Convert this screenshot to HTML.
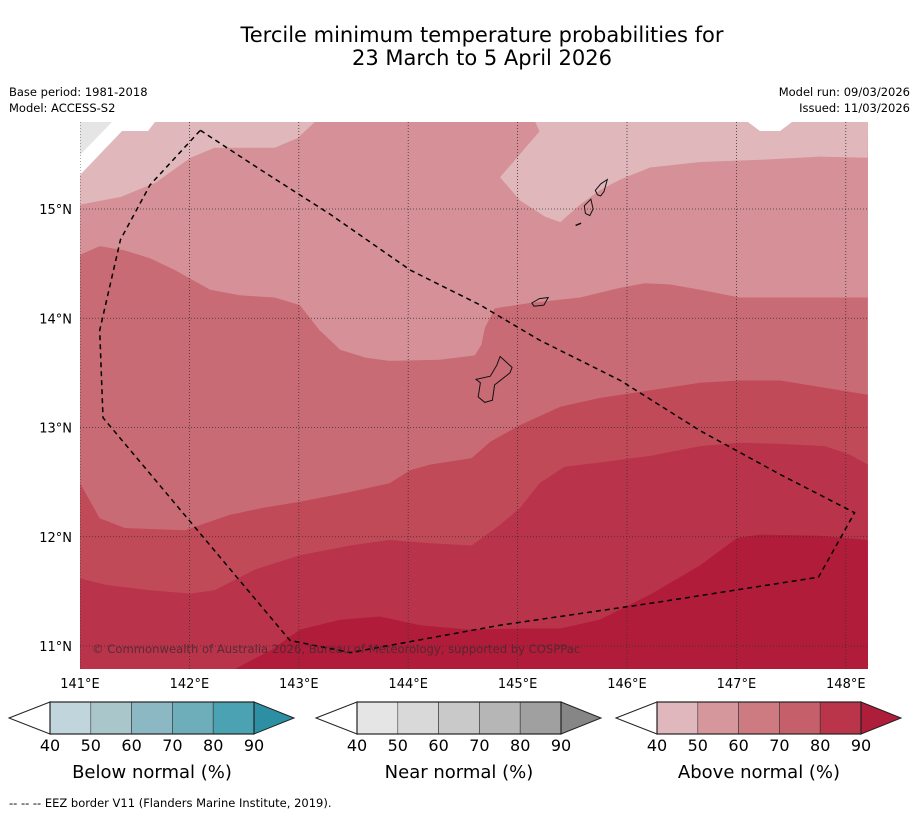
<!DOCTYPE html>
<html><head><meta charset="utf-8"><style>
body{margin:0;background:#fff;width:919px;height:816px;overflow:hidden;font-family:"DejaVu Sans","Liberation Sans",sans-serif}
svg{display:block}
</style></head><body>
<svg id="chart" width="919" height="816" xmlns="http://www.w3.org/2000/svg" font-family="DejaVu Sans, Liberation Sans, sans-serif">
<text x="482" y="42" font-size="21" text-anchor="middle">Tercile minimum temperature probabilities for</text>
<text x="482" y="65" font-size="21" text-anchor="middle">23 March to 5 April 2026</text>
<text x="9" y="96" font-size="11.5">Base period: 1981-2018</text>
<text x="9" y="112" font-size="11.5">Model: ACCESS-S2</text>
<text x="910" y="96" font-size="11.5" text-anchor="end">Model run: 09/03/2026</text>
<text x="910" y="112" font-size="11.5" text-anchor="end">Issued: 11/03/2026</text>
<defs><clipPath id="mapclip"><rect x="80" y="122" width="788" height="547"/></clipPath></defs>
<g id="map" clip-path="url(#mapclip)"></g>
<g id="axes"></g>
<text x="92" y="653" font-size="11.6" fill="#3a2a2c" fill-opacity="0.75">© Commonwealth of Australia 2026, Bureau of Meteorology, supported by COSPPac</text>
<g id="bars"></g>
<text x="9" y="807" font-size="11.5">--  --  -- EEZ border V11 (Flanders Marine Institute, 2019).</text>
</svg>
<script>
const lonTicks=[141,142,143,144,145,146,147,148];
const latTicks=[11,12,13,14,15];
const barLevels=["40","50","60","70","80","90"];
const bandColors=["#e0b8bb","#d59197","#c96b74","#c04a57","#b9334b","#b01c3a"];
const lightLeft=[[141,15.04],[141.37,15.11],[141.69,15.24],[142.01,15.47],[142.23,15.56],[142.78,15.56],[142.99,15.65],[143.15,15.80]];
const lightRight=[[145.16,15.80],[145.20,15.71],[144.84,15.29],[145.02,15.08],[145.25,14.93],[145.39,14.88],[145.57,15.04],[145.75,15.17],[145.94,15.27],[146.21,15.38],[146.67,15.43],[147.22,15.45],[147.76,15.48],[148.2,15.47]];
const b50=[[141,14.58],[141.18,14.66],[141.41,14.62],[141.64,14.55],[141.87,14.44],[142.19,14.26],[142.46,14.21],[142.78,14.19],[143.01,14.12],[143.19,13.89],[143.38,13.71],[143.61,13.64],[143.83,13.61],[144.29,13.62],[144.61,13.66],[144.67,13.76],[144.70,13.91],[144.79,14.09],[145.11,14.14],[145.57,14.19],[145.94,14.28],[146.16,14.32],[146.39,14.31],[146.67,14.26],[147.03,14.19],[147.58,14.19],[148.2,14.19]];
const b60=[[141,12.49],[141.18,12.17],[141.41,12.08],[141.96,12.06],[142.37,12.20],[142.65,12.26],[143.01,12.32],[143.47,12.41],[143.83,12.49],[144.02,12.61],[144.20,12.66],[144.58,12.72],[144.75,12.87],[145.02,13.02],[145.39,13.19],[145.75,13.27],[146.21,13.34],[146.67,13.41],[147.03,13.43],[147.40,13.43],[148.2,13.30]];
const b70=[[141,11.62],[141.23,11.56],[141.64,11.51],[142.01,11.48],[142.23,11.51],[142.60,11.70],[143.01,11.83],[143.47,11.92],[143.83,11.97],[144.20,11.94],[144.58,11.92],[144.84,12.11],[145.02,12.26],[145.20,12.49],[145.43,12.64],[145.75,12.68],[146.21,12.74],[146.67,12.83],[147.03,12.86],[147.40,12.85],[147.81,12.83],[148.04,12.75],[148.2,12.66]];
const b80=[[142.42,10.79],[142.74,10.96],[143.01,11.15],[143.38,11.24],[143.74,11.27],[144.11,11.19],[144.56,11.15],[145.02,11.16],[145.39,11.16],[145.75,11.24],[146.21,11.47],[146.67,11.74],[147.01,11.99],[147.22,12.02],[147.76,12.01],[148.2,11.97]];
const eez=[[142.10,15.72],[142.65,15.36],[143.29,14.95],[144.02,14.44],[144.66,14.12],[145.20,13.80],[145.94,13.43],[146.67,12.97],[147.40,12.57],[148.08,12.22],[147.75,11.63],[146.21,11.39],[144.84,11.19],[143.47,10.94],[142.92,11.05],[141.21,13.09],[141.18,13.89],[141.37,14.72],[141.64,15.22],[142.10,15.72]];
const guam=[[144.84,13.65],[144.95,13.55],[144.93,13.50],[144.79,13.39],[144.77,13.25],[144.70,13.23],[144.64,13.28],[144.66,13.41],[144.62,13.44],[144.75,13.47],[144.81,13.57]];
const rota=[[145.13,14.14],[145.20,14.18],[145.28,14.19],[145.24,14.12],[145.15,14.11]];
const saipan=[[145.82,15.27],[145.79,15.16],[145.76,15.12],[145.73,15.13],[145.71,15.17],[145.76,15.23]];
const tinian=[[145.67,15.09],[145.69,15.00],[145.66,14.94],[145.62,14.96],[145.61,15.03]];
const aguijan=[[145.53,14.85],[145.58,14.87]];
const X=lon=>80+(lon-141)*109.4;
const Y=lat=>209-(lat-15)*109.25;
const NS="http://www.w3.org/2000/svg";
function mk(tag,attrs,parent){const e=document.createElementNS(NS,tag);for(const k in attrs)e.setAttribute(k,attrs[k]);parent.appendChild(e);return e;}
function pts(a){return a.map(p=>X(p[0]).toFixed(1)+","+Y(p[1]).toFixed(1)).join(" ");}
const map=document.getElementById('map');
let r=mk('rect',{x:80,y:122,width:788,height:547,fill:bandColors[1]},map);


let p=mk('polygon',{points:"80,122 "+pts(lightLeft),fill:bandColors[0]},map);


p=mk('polygon',{points:pts(lightRight)+" 868,122",fill:bandColors[0]},map);


p=mk('polygon',{points:"80,122 80,175 122,131 148,131 155,122",fill:"#ffffff"},map);


p=mk('polygon',{points:"80,122 80,155 112,122",fill:"#e5e5e5"},map);


p=mk('polygon',{points:"748,122 760,131 780,131 792,122",fill:"#ffffff"},map);


const bands=[[b50,2,'band-60-70'],[b60,3,'band-70-80'],[b70,4,'band-80-90']];
bands.forEach(b=>{
 const q=mk('polygon',{points:pts(b[0])+" 868,669 80,669",fill:bandColors[b[1]]},map);
 
 
});
p=mk('polygon',{points:pts(b80)+" 868,669",fill:bandColors[5]},map);


lonTicks.forEach(l=>{const g=mk('line',{x1:X(l),x2:X(l),y1:122,y2:669,stroke:"#333",'stroke-width':0.8,'stroke-dasharray':"1,2"},map);

});
latTicks.forEach(l=>{const g=mk('line',{x1:80,x2:868,y1:Y(l),y2:Y(l),stroke:"#333",'stroke-width':0.8,'stroke-dasharray':"1,2"},map);

});
[[guam,'guam'],[rota,'rota'],[saipan,'saipan'],[tinian,'tinian']].forEach(i=>{
 const q=mk('polygon',{points:pts(i[0]),fill:"none",stroke:"#111",'stroke-width':1},map);
 
 
});
p=mk('polyline',{points:pts(aguijan),fill:"none",stroke:"#111",'stroke-width':1.5},map);


p=mk('polyline',{points:pts(eez),fill:"none",stroke:"#000",'stroke-width':1.5,'stroke-dasharray':"5,4"},map);


const axes=document.getElementById('axes');
lonTicks.forEach(l=>{const t=mk('text',{x:X(l),y:688,'font-size':13,'text-anchor':'middle'},axes);t.textContent=l+"°E";

});
latTicks.forEach(l=>{const t=mk('text',{x:72,y:Y(l)+5,'font-size':13,'text-anchor':'end'},axes);t.textContent=l+"°N";

});
const barSets=[
 {x0:9,title:"Below normal (%)",cols:["#c0d5dc","#a9c6cb","#8bb8c3","#6eaebb","#4aa2b2","#2c8fa3"],name:'below-normal-colorbar'},
 {x0:316,title:"Near normal (%)",cols:["#e5e5e5","#d9d9d9","#c9c9c9","#b6b6b6","#a0a0a0","#868686"],name:'near-normal-colorbar'},
 {x0:616,title:"Above normal (%)",cols:["#e0b7bc","#d6979c","#cd7a80","#c55f6a","#bb354a","#ae1e3a"],name:'above-normal-colorbar'}];
const bars=document.getElementById('bars');
barSets.forEach(s=>{
 const g=mk('g',{},bars);
 
 
 const bx=s.x0+41,w=204/5,y0=702,y1=734;
 mk('polygon',{points:`${s.x0},718 ${bx},${y0} ${bx},${y1}`,fill:"#fff",stroke:"#222",'stroke-width':1},g);
 for(let i=0;i<5;i++)mk('rect',{x:bx+i*w,y:y0,width:w,height:32,fill:s.cols[i],stroke:"#333",'stroke-width':0.6},g);
 mk('polygon',{points:`${bx+204},${y0} ${bx+244},718 ${bx+204},${y1}`,fill:s.cols[5],stroke:"#222",'stroke-width':1},g);
 mk('rect',{x:bx,y:y0,width:204,height:32,fill:"none",stroke:"#222",'stroke-width':1.2},g);
 barLevels.forEach((v,i)=>{const t=mk('text',{x:bx+i*w,y:751,'font-size':16,'text-anchor':'middle'},g);t.textContent=v;
 
 });
 const t=mk('text',{x:bx+102,y:778,'font-size':18,'text-anchor':'middle'},g);t.textContent=s.title;
 
 
});
</script>
</body></html>
